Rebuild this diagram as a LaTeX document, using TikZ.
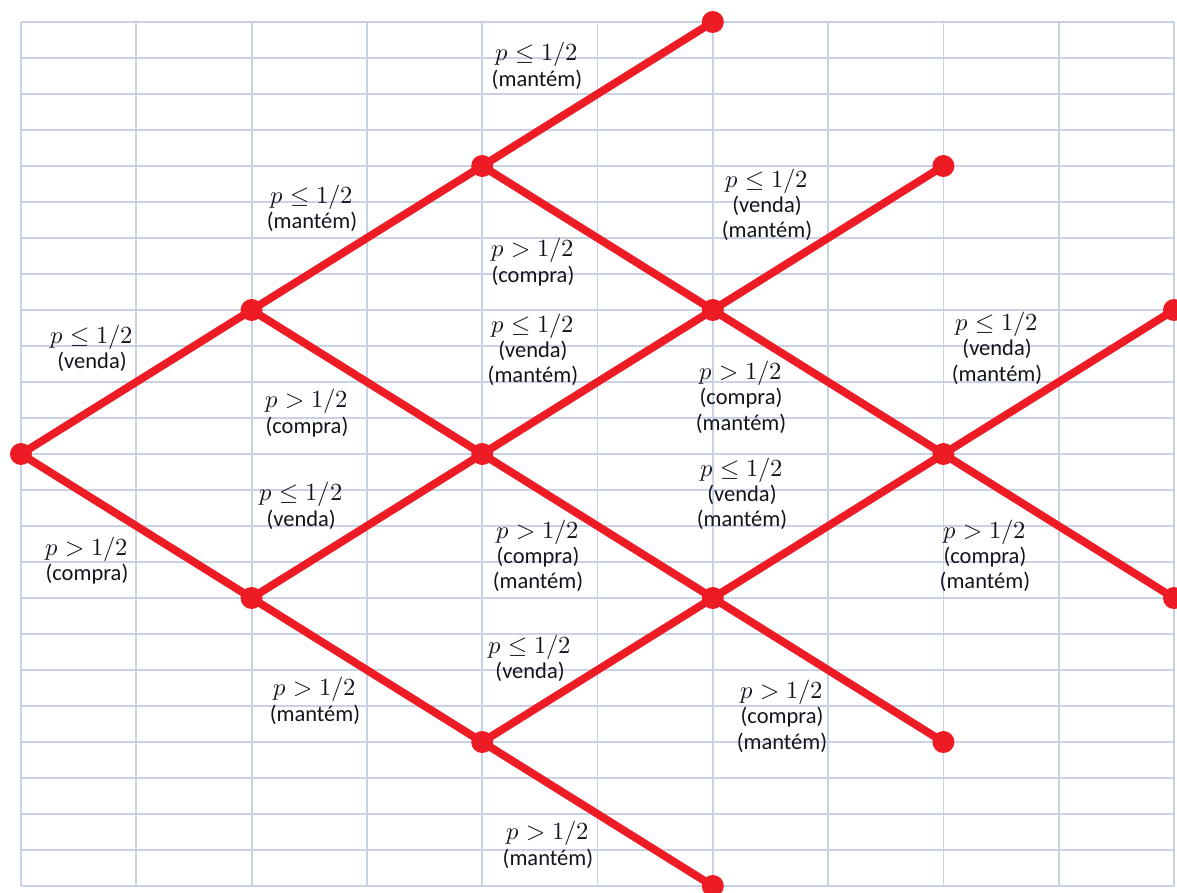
\documentclass[tikz,border=0pt]{standalone}
\usepackage{fontspec}
\usepackage{unicode-math}
\setmainfont{Carlito}
\setmathfont{Latin Modern Math}
\usetikzlibrary{positioning}

\definecolor{vermelho}{RGB}{237,28,36}
\definecolor{grade}{RGB}{200,210,228}
\definecolor{texto}{RGB}{20,20,30}

\newcommand{\condp}[1]{{\fontsize{17.5}{19}\selectfont$p #1 1/2$}}

\tikzset{
	ponto/.style={circle, fill=vermelho, inner sep=0pt, minimum size=0.55cm},
	ramo/.style={draw=vermelho, line width=5.6pt},
	rotulo/.style={align=center, inner sep=0pt, text=texto, font=\fontsize{16}{18}\selectfont},
}

\begin{document}
\begin{tikzpicture}[x=2.8825cm,y=0.9cm]
		\useasboundingbox (-0.182,-0.167) rectangle (10.026,24.611);
		% grade
		\foreach \i in {0,...,10}
			\draw[grade, line width=1.3pt] (\i,0) -- (\i,24);
		\foreach \j in {0,...,24}
			\draw[grade, line width=1.3pt] (0,\j) -- (10,\j);
		% vertices
		\node[ponto] (n0) at (0,12) {};
		\node[ponto] (n1a) at (2,16) {};
		\node[ponto] (n1b) at (2,8) {};
		\node[ponto] (n2a) at (4,20) {};
		\node[ponto] (n2b) at (4,12) {};
		\node[ponto] (n2c) at (4,4) {};
		\node[ponto] (n3a) at (6,24) {};
		\node[ponto] (n3b) at (6,16) {};
		\node[ponto] (n3c) at (6,8) {};
		\node[ponto] (n3d) at (6,0) {};
		\node[ponto] (n4a) at (8,20) {};
		\node[ponto] (n4b) at (8,12) {};
		\node[ponto] (n4c) at (8,4) {};
		\node[ponto] (n5a) at (10,16) {};
		\node[ponto] (n5b) at (10,8) {};
		% ramos
		\foreach \a/\b in {n0/n1a,n0/n1b,n1a/n2a,n1a/n2b,n1b/n2b,n1b/n2c,
				n2a/n3a,n2a/n3b,n2b/n3b,n2b/n3c,n2c/n3c,n2c/n3d,
				n3b/n4a,n3b/n4b,n3c/n4b,n3c/n4c,n4b/n5a,n4b/n5b}
			\draw[ramo] (\a.center) -- (\b.center);
		% rotulos
		\node[rotulo] (r1) at (4.475,22.78) {\condp{\le}\\(mantém)};
		\node[rotulo] (r2) at (2.524,18.83) {\condp{\le}\\(mantém)};
		\node[rotulo] (r3) at (0.616,14.94) {\condp{\le}\\(venda)};
		\node[rotulo] (r4) at (4.44,17.33) {\condp{>}\\(compra)};
		\node[rotulo] (r5) at (4.44,14.89) {\condp{\le}\\(venda)\\(mantém)};
		\node[rotulo] (r6) at (6.47,18.92) {\condp{\le}\\(venda)\\(mantém)};
		\node[rotulo] (r7) at (8.465,14.94) {\condp{\le}\\(venda)\\(mantém)};
		\node[rotulo] (r8) at (6.245,13.58) {\condp{>}\\(compra)\\(mantém)};
		\node[rotulo] (r9) at (2.48,13.14) {\condp{>}\\(compra)};
		\node[rotulo] (r10) at (2.43,10.56) {\condp{\le}\\(venda)};
		\node[rotulo] (r11) at (6.253,10.89) {\condp{\le}\\(venda)\\(mantém)};
		\node[rotulo] (r12) at (0.572,9.03) {\condp{>}\\(compra)};
		\node[rotulo] (r13) at (4.484,9.17) {\condp{>}\\(compra)\\(mantém)};
		\node[rotulo] (r14) at (8.36,9.17) {\condp{>}\\(compra)\\(mantém)};
		\node[rotulo] (r15) at (4.415,6.33) {\condp{\le}\\(venda)};
		\node[rotulo] (r16) at (2.55,5.14) {\condp{>}\\(mantém)};
		\node[rotulo] (r17) at (6.6,4.72) {\condp{>}\\(compra)\\(mantém)};
		\node[rotulo] (r18) at (4.57,1.14) {\condp{>}\\(mantém)};
	\end{tikzpicture}
\end{document}
